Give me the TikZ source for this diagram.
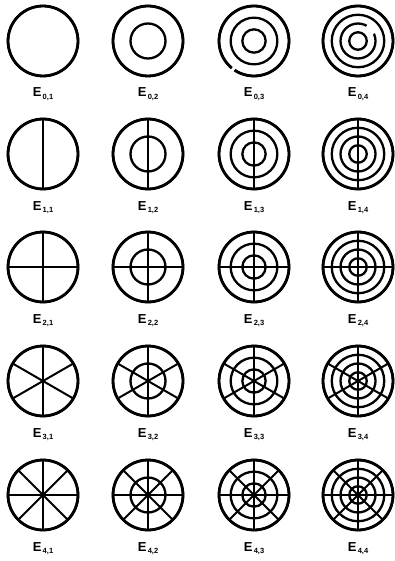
\documentclass[tikz,border=0pt]{standalone}
\usepackage{fontspec}
\setsansfont{Liberation Sans}

\begin{document}
\begin{tikzpicture}[
  x=1pt, y=-1pt,
  rim/.style={line width=2.8pt},
  ring/.style={line width=2.3pt},
  spoke/.style={line width=2pt},
  gap/.style={white, line width=3.6pt},
  lbl/.style={font=\sffamily\bfseries\fontsize{13}{13}\selectfont, inner sep=0pt}
]
\useasboundingbox (0,0) rectangle (395,561);

% rows: number of diameters (\r); columns: number of rings (\c)
\foreach \r/\yc in {0/41, 1/154, 2/267, 3/381, 4/495} {
  \foreach \c/\xc in {1/43, 2/148, 3/254, 4/358} {
    \coordinate (c\r\c) at (\xc,\yc);
    % concentric rings
    \foreach \k in {1,...,\c} {
      \pgfmathsetmacro{\rad}{35*\k/\c}
      \draw[ring] (c\r\c) circle[radius=\rad pt];
    }
    \draw[rim] (c\r\c) circle[radius=35pt];
    % diameters
    \ifnum\r>0
      \foreach \j in {1,...,\r} {
        \pgfmathsetmacro{\ang}{90+(\j-1)*180/\r}
        \draw[spoke, shift={(c\r\c)}] (\ang:35) -- (\ang+180:35);
      }
    \fi
    % label
    \node[lbl, anchor=base] (e\r\c) at (\xc,\yc+56) {E\raisebox{-2.5pt}{\fontsize{7.5}{7.5}\selectfont\,\r,\c}};
  }
}

% breaks in the open rings of the first row
\draw[gap, shift={(c03)}] (129:35) arc[start angle=129, end angle=124, radius=35];
\draw[gap, shift={(c04)}] (-25:17.5) arc[start angle=-25, end angle=-60, radius=17.5];
\end{tikzpicture}
\end{document}
